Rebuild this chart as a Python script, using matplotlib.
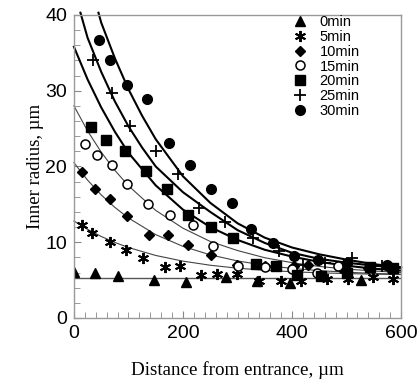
import numpy as np
import matplotlib
matplotlib.use("Agg")
import matplotlib.pyplot as plt
from matplotlib.ticker import MultipleLocator

# measured points (distance um, inner radius um)
x_0 = [1, 39, 81, 147, 206, 278, 335, 396, 527]
r_0 = [6.1, 5.9, 5.5, 5.0, 4.7, 5.4, 4.9, 4.6, 5.0]

x_5 = [15, 34, 67, 95, 127, 167, 195, 233, 263, 299, 340, 379, 416, 464, 503, 548, 586]
r_5 = [12.3, 11.2, 10.0, 9.0, 7.9, 6.7, 6.9, 5.7, 5.8, 5.8, 4.9, 4.9, 4.9, 5.1, 5.2, 5.45, 5.2]

x_10 = [15, 39, 67, 98, 137, 172, 210, 251, 299, 350, 404, 430, 490, 540, 580]
r_10 = [19.3, 17.0, 15.7, 13.4, 10.9, 10.9, 9.6, 8.3, 7.0, 6.9, 6.9, 7.0, 6.6, 6.6, 6.5]

x_15 = [20, 43, 69, 98, 135, 176, 218, 255, 301, 351, 400, 445, 485]
r_15 = [23.0, 21.5, 20.2, 17.7, 15.0, 13.6, 12.3, 9.5, 6.8, 6.7, 6.4, 6.0, 6.8]

x_20 = [31, 59, 94, 133, 170, 210, 251, 292, 334, 370, 410, 454, 501, 543, 585]
r_20 = [25.2, 23.5, 22.1, 19.4, 17.0, 13.6, 12.0, 10.6, 7.1, 6.9, 5.7, 5.5, 5.9, 6.7, 6.6]

x_25 = [35, 69, 103, 150, 190, 229, 277, 328, 376, 421, 461, 510, 565]
r_25 = [34.1, 29.7, 25.3, 22.1, 19.0, 14.5, 12.7, 10.6, 8.9, 7.0, 7.2, 7.9, 6.8]

x_30 = [46, 67, 98, 134, 174, 213, 251, 290, 325, 366, 404, 448, 500, 574]
r_30 = [36.7, 34.1, 30.8, 28.9, 23.1, 20.2, 17.0, 15.2, 11.8, 9.9, 8.2, 7.6, 7.3, 7.0]

# fitted curves
fx = [0, 25, 50, 75, 100, 150, 200, 250, 300, 350, 400, 450, 500, 550, 600]
fit_0 = [5.3] * len(fx)
fit_5 = [12.8, 11.7, 10.76, 9.97, 9.3, 8.25, 7.5, 6.96, 6.57, 6.3, 6.1, 5.96, 5.86, 5.78, 5.73]
fit_10 = [20.5, 18.2, 16.25, 14.6, 13.2, 11.0, 9.45, 8.33, 7.53, 6.95, 6.54, 6.25, 6.04, 5.88, 5.77]
fit_15 = [28.0, 24.7, 21.9, 19.5, 17.45, 14.2, 11.85, 10.1, 8.9, 7.95, 7.3, 6.8, 6.45, 6.2, 6.0]
fit_20 = [35.8, 31.5, 27.8, 24.6, 21.8, 17.5, 14.3, 12.0, 10.3, 9.0, 8.1, 7.4, 6.9, 6.5, 6.25]
fx_25 = [12, 25, 50, 75, 100, 125, 150, 200, 250, 300, 350, 400, 450, 500, 550, 600]
fit_25 = [40.3, 37.0, 32.5, 28.6, 25.3, 22.5, 20.0, 16.6, 14.0, 11.6, 9.9, 8.6, 7.8, 7.3, 6.9, 6.6]
fx_30 = [45, 50, 75, 100, 125, 150, 200, 250, 300, 350, 400, 450, 500, 550, 600]
fit_30 = [40.3, 39.0, 34.3, 30.2, 26.7, 23.6, 18.7, 15.2, 12.5, 10.6, 9.3, 8.4, 7.7, 7.1, 6.7]

fig = plt.figure(figsize=(4.2, 3.84), dpi=100)
ax = fig.add_axes([0.176, 0.172, 0.779, 0.789])

thin = dict(color='#444444', lw=0.8, clip_on=False)
thick = dict(color='black', lw=1.5, clip_on=False)
ax.plot(fx, fit_0, color='#555555', lw=1.0)
ax.plot(fx, fit_5, **thin)
ax.plot(fx, fit_10, **thin)
ax.plot(fx, fit_15, **thin)
ax.plot(fx, fit_20, **thick)
ax.plot(fx_25, fit_25, **thick)
ax.plot(fx_30, fit_30, **thick)

ax.plot(x_0, r_0, ls='none', marker='^', ms=7, color='black', label='0min')
ax.plot(x_5, r_5, ls='none', marker=(6, 2, 0), ms=8, mew=1.4, color='black', label='5min')
ax.plot(x_10, r_10, ls='none', marker='D', ms=5, color='black', label='10min')
ax.plot(x_15, r_15, ls='none', marker='o', ms=6.5, mfc='white', mec='black', mew=1.1, label='15min')
ax.plot(x_20, r_20, ls='none', marker='s', ms=7, color='black', label='20min')
ax.plot(x_25, r_25, ls='none', marker='+', ms=9, mew=1.3, color='black', label='25min')
ax.plot(x_30, r_30, ls='none', marker='o', ms=7, color='black', label='30min')

ax.set_xlim(0, 600)
ax.set_ylim(0, 40)
ax.xaxis.set_major_locator(MultipleLocator(200))
ax.xaxis.set_minor_locator(MultipleLocator(20))
ax.yaxis.set_major_locator(MultipleLocator(10))
ax.yaxis.set_minor_locator(MultipleLocator(2))
ax.tick_params(which='both', direction='in', colors='#888888', labelcolor='black',
               top=False, right=False)
ax.tick_params(which='major', length=5, labelsize=14, pad=5)
ax.tick_params(which='minor', length=4)
for lab in ax.get_xticklabels() + ax.get_yticklabels():
    lab.set_family('Liberation Sans')
for s in ax.spines.values():
    s.set_color('#999999')
    s.set_linewidth(1.0)

ax.set_xlabel('Distance from entrance, µm', family='Liberation Serif', fontsize=13.7, labelpad=14)
ax.set_ylabel('Inner radius, µm', family='Liberation Serif', fontsize=13.5, labelpad=1)

ax.legend(loc='upper left', bbox_to_anchor=(0.63, 1.042), frameon=False,
          prop={'family': 'Liberation Sans', 'size': 10.5}, handlelength=1.0,
          handletextpad=0.8, labelspacing=0.05, numpoints=1)

fig.savefig('out.png', dpi=100)
